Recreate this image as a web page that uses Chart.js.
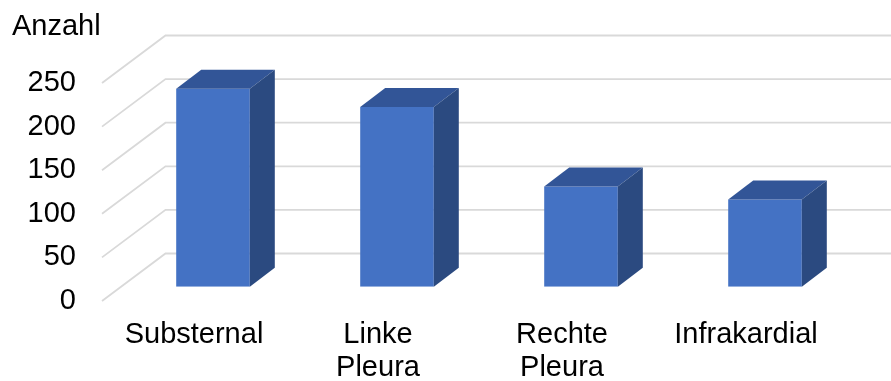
<!DOCTYPE html>
<html>
<head>
<meta charset="utf-8">
<script src="https://cdn.jsdelivr.net/npm/chart.js@4/dist/chart.umd.min.js"></script>
<style>
  html, body { margin: 0; padding: 0; background: #ffffff; }
  #wrap { width: 891px; height: 381px; }
</style>
</head>
<body>
<div id="wrap"><canvas id="c" width="891" height="381"></canvas></div>
<script>
// ---- data ----
const categories = ['Substernal', ['Linke', 'Pleura'], ['Rechte', 'Pleura'], 'Infrakardial'];
const values = [227, 206, 115, 100];
const yTickMin = 0;
const yTickMax = 250;
const yTickStep = 50;
const axisTitle = 'Anzahl';

// ---- 3D look (oblique projection) ----
const DEPTH_DX = 63.5, DEPTH_DY = -47.5;   // floor depth
const BAR_DX = 19, BAR_DY = -14.3;          // bar front plane offset
const BAR_DDX = 25, BAR_DDY = -19;          // bar depth
const FRONT = '#4472c4', TOP = '#325597', SIDE = '#2b4a80';
const GRID = '#d9d9d9';

const threeD = {
  id: 'threeD',
  beforeDatasetsDraw(chart) {
    const ctx = chart.ctx, ys = chart.scales.y, area = chart.chartArea;
    ctx.save();
    ctx.strokeStyle = GRID;
    ctx.lineWidth = 1.8;
    ys.ticks.forEach(t => {
      const y = ys.getPixelForValue(t.value);
      ctx.beginPath();
      ctx.moveTo(area.left, y);
      ctx.lineTo(area.left + DEPTH_DX, y + DEPTH_DY);
      ctx.lineTo(area.right + DEPTH_DX, y + DEPTH_DY);
      ctx.stroke();
    });
    ctx.restore();
    ctx.save();
    ctx.translate(BAR_DX, BAR_DY);
  },
  afterDatasetsDraw(chart) {
    const ctx = chart.ctx;
    const meta = chart.getDatasetMeta(0);
    meta.data.forEach(bar => {
      const p = bar.getProps(['x', 'y', 'base', 'width'], true);
      const l = p.x - p.width / 2, r = p.x + p.width / 2, t = p.y, b = p.base;
      // top face
      ctx.fillStyle = TOP;
      ctx.beginPath();
      ctx.moveTo(l, t); ctx.lineTo(r, t);
      ctx.lineTo(r + BAR_DDX, t + BAR_DDY); ctx.lineTo(l + BAR_DDX, t + BAR_DDY);
      ctx.closePath(); ctx.fill();
      // side face
      ctx.fillStyle = SIDE;
      ctx.beginPath();
      ctx.moveTo(r, t); ctx.lineTo(r + BAR_DDX, t + BAR_DDY);
      ctx.lineTo(r + BAR_DDX, b + BAR_DDY); ctx.lineTo(r, b);
      ctx.closePath(); ctx.fill();
    });
    ctx.restore();
  }
};

const FONT = { family: "'Liberation Sans', Arial, sans-serif", size: 29 };

new Chart(document.getElementById('c'), {
  type: 'bar',
  data: {
    labels: categories,
    datasets: [{
      data: values,
      backgroundColor: FRONT,
      borderWidth: 0,
      barPercentage: 0.4,
      categoryPercentage: 1.0
    }]
  },
  options: {
    responsive: false,
    animation: false,
    events: [],
    layout: { padding: { left: 12, right: 53, top: 0, bottom: 0 } },
    plugins: {
      legend: { display: false },
      tooltip: { enabled: false },
      title: {
        display: true,
        text: axisTitle,
        align: 'start',
        color: '#000000',
        font: { ...FONT, weight: 'normal', lineHeight: 1.2 },
        padding: { top: 10, bottom: 38.2 }
      }
    },
    scales: {
      x: {
        grid: { display: false, drawTicks: false },
        border: { display: false },
        ticks: {
          color: '#000000',
          font: { ...FONT, lineHeight: 1.12 },
          padding: 18,
          maxRotation: 0,
          autoSkip: false
        },
        afterFit(scale) { scale.height = 80; }
      },
      y: {
        min: yTickMin,
        max: yTickMax,
        grid: { display: false, drawTicks: false },
        border: { display: false },
        ticks: {
          stepSize: yTickStep,
          color: '#000000',
          font: FONT,
          padding: 26
        },
        afterFit(scale) { scale.width = 90; }
      }
    }
  },
  plugins: [threeD]
});
</script>
</body>
</html>
